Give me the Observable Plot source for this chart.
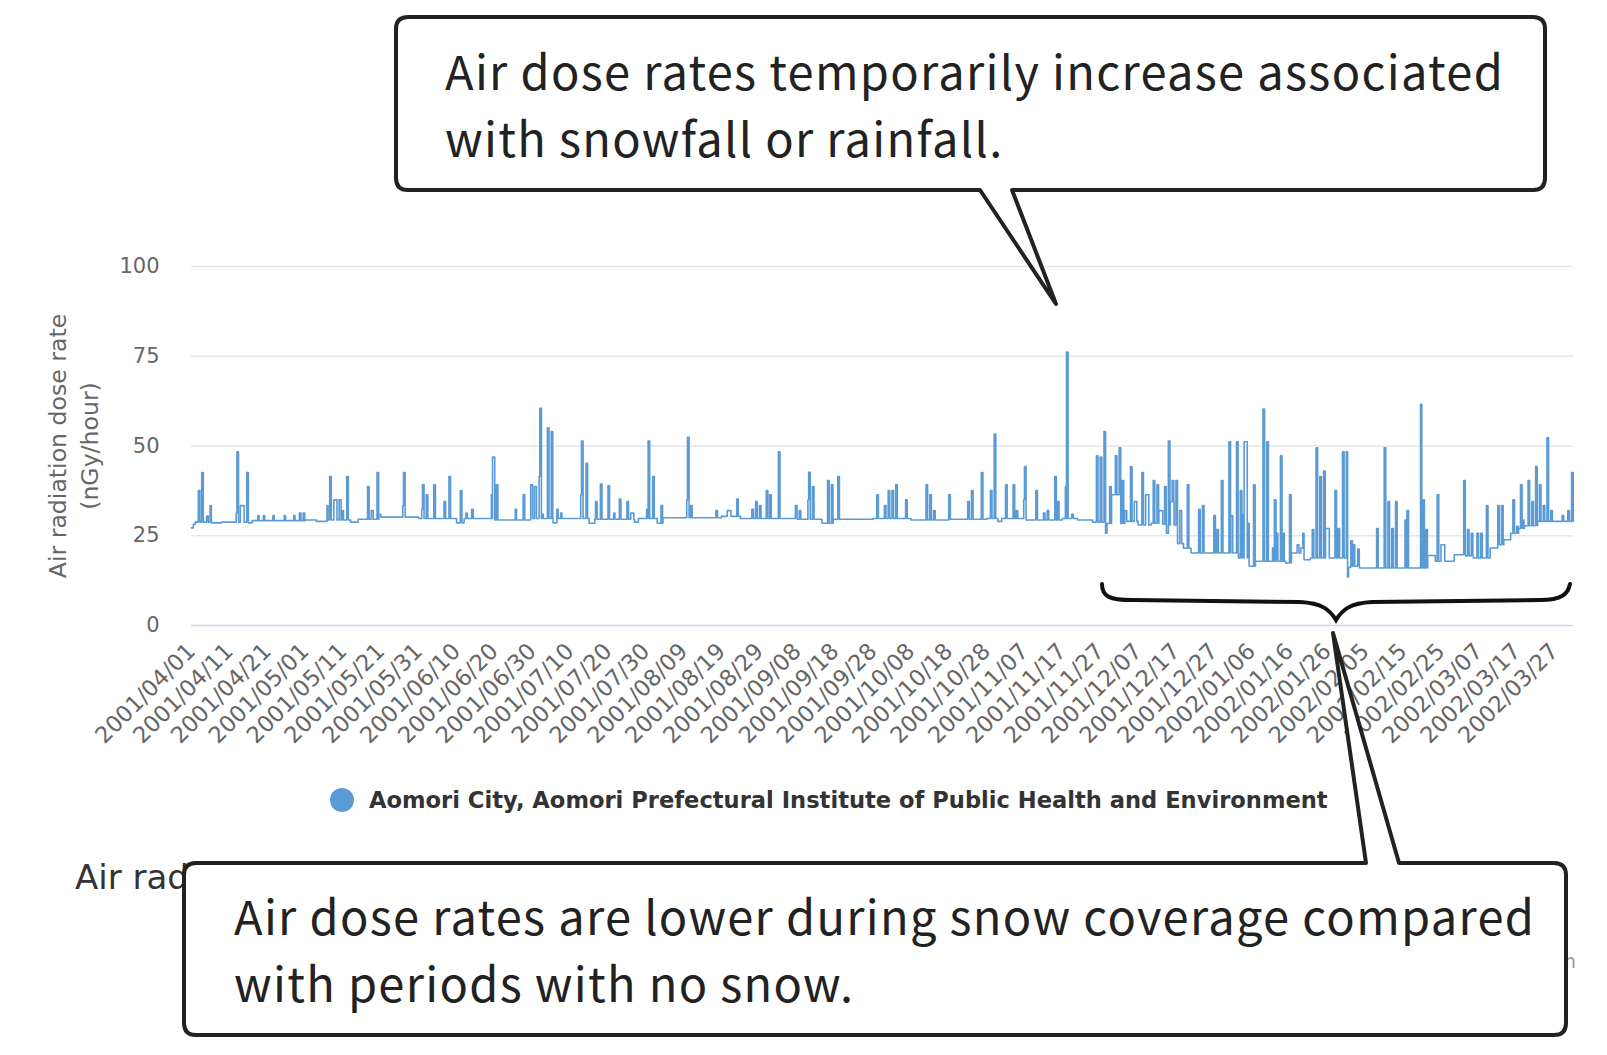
<!DOCTYPE html>
<html>
<head>
<meta charset="utf-8">
<script src="https://cdn.jsdelivr.net/npm/d3@7"></script>
<script src="https://cdn.jsdelivr.net/npm/@observablehq/plot@0.6"></script>
<style>
  body { margin: 0; background: #fff; }
  #wrap { position: relative; width: 1607px; height: 1055px; overflow: hidden; font-family: "DejaVu Sans", sans-serif; }
  #chart { position: absolute; left: 0; top: 0; }
  #legend { position: absolute; left: 330px; top: 786px; height: 28px; display: flex; align-items: center; }
  #legend .dot { width: 24px; height: 24px; border-radius: 50%; background: #5B9BD5; margin-right: 15px; }
  #legend .lbl { font-weight: 700; font-size: 22.6px; color: #333; white-space: nowrap; }
  #title { position: absolute; left: 75px; top: 857px; font-size: 34px; color: #333; white-space: nowrap; }
  #credit { position: absolute; right: 31px; top: 950px; font-size: 19px; color: #999; white-space: nowrap; }
  #notes { position: absolute; left: 0; top: 0; }
</style>
</head>
<body>
<div id="wrap">
  <div id="chart"></div>
  <div id="legend"><div class="dot"></div><div class="lbl"></div></div>
  <div id="title"></div>
  <div id="credit"></div>
  <svg id="notes" width="1607" height="1055"></svg>
</div>
<script>
// ---------------- data ----------------
const seriesName = "Aomori City, Aomori Prefectural Institute of Public Health and Environment";
const yTitle = ["Air radiation dose rate", "(nGy/hour)"];
const yTicks = [0, 25, 50, 75, 100];
const tickLabels = ["2001/04/01","2001/04/11","2001/04/21","2001/05/01","2001/05/11","2001/05/21","2001/05/31",
  "2001/06/10","2001/06/20","2001/06/30","2001/07/10","2001/07/20","2001/07/30","2001/08/09","2001/08/19",
  "2001/08/29","2001/09/08","2001/09/18","2001/09/28","2001/10/08","2001/10/18","2001/10/28","2001/11/07",
  "2001/11/17","2001/11/27","2001/12/07","2001/12/17","2001/12/27","2002/01/06","2002/01/16","2002/01/26",
  "2002/02/05","2002/02/15","2002/02/25","2002/03/07","2002/03/17","2002/03/27"];
const periodStart = "2001/04/01";
const periodEnd = "2002/04/01";

// background level: [days since 2001/04/01, nGy/h], holds until next entry
const baseline = [
  [0,27.2],[0.5,28.2],[1,28.8],[5,28.6],[8,28.8],[15,28.6],[16,29.2],[30,29.4],[33,29.0],[36,29.4],
  [42,28.8],[44,29.6],[50,30.2],[60,29.8],[70,28.6],[72,29.8],[80,29.4],[90,29.8],[95.5,28.6],[96.5,29.8],
  [105,28.5],[106.5,29.6],[117,28.8],[118,29.8],[123,28.5],[124.5,30.0],[140,30.4],[145,29.8],[160,29.6],
  [166.5,28.5],[169.5,29.6],[180,29.8],[190,29.4],[200,29.6],[210,29.8],[213,29.0],[214,29.8],[220,29.4],
  [230,29.8],[234,29.4],[238,28.8],[241.3,25.7],[241.8,28.4],[246.5,29.0],[250,28.0],[253.5,28.5],
  [255.6,25.7],[256,28.2],[257.5,25.7],[258,28.0],[260.3,22.8],[262,21.5],[264,20.2],[276.5,18.8],
  [279.3,16.5],[281,17.9],[289,17.4],[290.5,20.2],[293.5,18.3],[295.5,18.8],[305.3,13.5],[305.6,16.2],
  [306.3,16.5],[308.5,16.0],[326.5,19.5],[328.5,17.9],[333.5,19.7],[336.5,19.4],[338.5,18.8],[343,21.6],
  [345,22.5],[346.6,23.9],[348.4,25.7],[350.5,27.0],[352,27.8],[355.5,29.0]
];

// rain / snow events: [days since 2001/04/01, peak nGy/h, duration hours]
const spikes = [
  [1.8,37.6,10],[2.7,42.6,10],[4.0,30.5,10],[4.9,33.4,8],
  [11.8,31.3,6],[12.0,48.4,10],[12.9,33.4,24],[14.6,42.6,10],
  [17.5,30.6,8],[19,30.6,8],[21.5,30.6,8],[24.5,30.6,8],[27,30.6,8],[28.5,31.3,10],[29.5,31.3,10],
  [35.8,33.4,6],[36.5,41.5,10],[37.6,35,20],[39.0,35,12],[39.8,32,8],[41.0,41.5,10],
  [46.5,38.7,10],[47.5,32,12],[49.0,42.6,10],[49.5,31,12],
  [55.8,33.4,6],[56.0,42.6,10],[60.8,32.4,6],[61.0,39.2,10],[62.0,36.4,10],[64.0,39.2,10],[66.7,34.5,10],[68.0,41.5,10],
  [71.0,37.6,10],[72.5,31.3,8],[74.0,32.4,10],
  [79.2,36.4,6],[79.5,46.9,14],[80.5,39.2,10],[85.5,32.4,8],[87.6,36.4,10],[89.6,39.2,12],[90.6,38.7,12],
  [91.8,41.5,5],[92.0,60.5,10],[92.5,31,10],[94.0,55.1,10],[95.0,54,10],[96.5,32.4,8],[97.5,31.3,8],
  [102.8,36.4,5],[103.0,51.4,10],[104.2,45.2,10],[106.7,34.5,10],[108.0,39.4,10],[110.0,38.9,10],[111.5,31.3,8],
  [113.0,35.2,10],[115.0,34.5,10],[116.0,31.3,20],
  [120.2,32.4,6],[120.6,51.4,10],[121.8,41.5,10],[124.0,33.4,10],
  [130.8,35,5],[131.0,52.4,10],[131.8,33.4,10],[138.5,32,10],[141.5,32,24],[144.0,35.2,10],[148,32.4,10],
  [149.0,34.5,10],[150,33.4,10],[151.8,37.6,10],[152.7,36.4,10],
  [155.0,48.4,10],[159.5,33.4,10],[160.5,32,10],[162.8,35,5],[163.0,42.7,10],[164.0,38.7,10],[168.0,40.4,10],
  [169.0,39.2,10],[170.7,41.5,10],
  [181.0,36.4,10],[183.0,33.4,10],[184.0,37.6,10],[185.0,37.6,10],[186.0,39.2,10],[188.6,35,10],
  [194.0,39.2,10],[195.0,36.4,10],[196.0,32,10],[200.0,36.4,10],[205.0,34.5,10],[206.0,37.6,10],[208.6,42.6,10],
  [211.0,37.6,10],[212.0,53.3,10],[215.0,39.2,10],[217.0,39.2,10],[217.8,32,10],[219.8,35,5],[220.0,44.3,10],
  [223.0,37.6,10],[225,31.3,10],[226,32,10],
  [228.0,41.5,10],[228.8,34.5,8],[230.8,38.7,6],[231.1,76.2,10],[232.5,31,10],
  [239.0,47.3,10],[240.0,46.9,10],[241.0,54.0,10],[242.5,38.7,10],[243,36.4,48],[244.0,47.3,10],[245.0,49.5,10],
  [245.8,40.4,10],[246.5,32,12],
  [248.0,44.3,10],[249.0,34.5,16],[251.0,42.6,10],[252.0,36.4,20],[254.0,40.4,10],[255.0,39.2,10],[255.5,32,24],
  [257.0,38.7,10],
  [258.0,51.4,10],[258.5,34.5,24],[259.0,40.4,10],[260.0,40.4,10],[261.0,32,12],[263.0,39.2,10],[266.0,32.4,10],
  [267.0,33.4,10],[270.0,30.6,10],[270.8,26.7,10],
  [272.0,40.4,10],[274.0,51.2,10],[274.5,30.6,12],[276.0,51.2,10],[277.0,37.6,10],[277.5,31,10],[278.0,51.2,20],
  [279.0,28.5,8],[280.5,39.2,10],
  [283.0,60.3,10],[284.0,51.2,10],[285.5,21.6,10],[286.0,35,10],[286.5,25.7,10],[287.6,47.3,10],[288.2,25.7,10],
  [290.0,36.4,10],[292.0,22.5,12],[293.0,21.6,12],[293.5,25.7,8],
  [296.0,26.7,10],[297.0,49.5,10],[298.0,41.5,10],[299.0,43,10],[299.5,27,24],[302.0,37.6,10],[302.8,27,10],
  [304.0,48.4,10],[305.0,48.4,8],
  [306.2,23.6,10],[306.8,22.5,10],[308.0,21.3,10],[313.0,27,10],[315.0,49.5,10],[316.0,34.5,10],[317.0,27,10],
  [318.0,34.5,10],[320.5,29.4,10],[321.0,32,10],
  [324.6,61.6,8],[325.2,35,10],[326,26.7,10],[329.0,36.4,10],[330.0,22.5,24],[336.0,40.4,10],[337.0,26.7,10],
  [338.0,25.7,10],[339.5,25.7,10],[340.5,25.7,10],
  [342.0,33.4,10],[345.0,33.4,10],[346.0,33.4,10],[349.0,35,10],[350.0,27.6,10],[351.0,39.2,10],[351.5,29.4,10],
  [353.0,40.4,10],[354.0,34.5,10],
  [355.0,44.3,10],[356.0,39.2,10],[357.0,33.4,10],[358.0,52.3,10],[359.0,32,10],[362.0,30.6,10],[363.5,32,10],
  [364.5,42.6,10]
];

const note1 = ["Air dose rates temporarily increase associated", "with snowfall or rainfall."];
const note2 = ["Air dose rates are lower during snow coverage compared", "with periods with no snow."];
const titleText = "Air rad";      // the rest of this heading is hidden behind the lower callout
const creditText = "Highcharts.com";

// ---------------- build series ----------------
const parse = d3.utcParse("%Y/%m/%d");
const t0 = parse(periodStart);
const DAY = 864e5;
const toDate = d => new Date(+t0 + d * DAY);
function baseAt(day) {
  let v = baseline[0][1];
  for (const [d, val] of baseline) if (d <= day) v = val; else break;
  return v;
}
const events = spikes.map(([d, p, h]) => ({ s: d, e: d + h / 24, p }));
const cutSet = new Set([...baseline.map(b => b[0]), ...events.map(e => e.s), ...events.map(e => e.e), 365]);
const cuts = [...cutSet].filter(t => t <= 365).sort((a, b) => a - b);
const series = cuts.map(t => {
  let v = baseAt(t);
  for (const e of events) if (e.s <= t && t < e.e) v = Math.max(v, e.p);
  return { date: toDate(t), value: v };
});
const tickDates = tickLabels.map(parse);

// ---------------- chart ----------------
const chart = Plot.plot({
  width: 1607,
  height: 770,
  marginLeft: 191,
  marginRight: 34,
  marginTop: 266,
  marginBottom: 145,
  style: { fontFamily: "'DejaVu Sans', sans-serif", color: "#666", background: "transparent", overflow: "visible" },
  x: { type: "utc", domain: [t0, parse(periodEnd)] },
  y: { domain: [0, 100] },
  marks: [
    Plot.gridY(yTicks.filter(d => d > 0), { stroke: "#e6e6e6", strokeOpacity: 1, strokeWidth: 1.7 }),
    Plot.ruleY([0], { stroke: "#ccd6eb", strokeWidth: 1.7 }),
    Plot.lineY(series, { x: "date", y: "value", curve: "step-after", stroke: "#5B9BD5", strokeWidth: 1.6 }),
    Plot.axisY({ ticks: yTicks, tickSize: 0, tickPadding: 32, label: null, fontSize: 21, fill: "#666" }),
    Plot.axisX({ ticks: tickDates, tickFormat: d3.utcFormat("%Y/%m/%d"), tickRotate: -45, tickSize: 0,
      tickPadding: 22, label: null, fontSize: 22.6, fill: "#666" }),
    Plot.text([yTitle[0]], { frameAnchor: "left", textAnchor: "middle", dx: -133, rotate: -90, fontSize: 23.6, fill: "#666" }),
    Plot.text([yTitle[1]], { frameAnchor: "left", textAnchor: "middle", dx: -101, rotate: -90, fontSize: 23.6, fill: "#666" })
  ]
});
document.getElementById("chart").append(chart);
document.querySelector("#legend .lbl").textContent = seriesName;
document.getElementById("title").textContent = titleText;
document.getElementById("credit").textContent = creditText;

// ---------------- callouts ----------------
const svg = d3.select("#notes");
function boxPath(x0, y0, x1, y1, r, side, a, b, tx, ty) {
  if (side === "bottom") {
    return `M${x0 + r},${y0}H${x1 - r}Q${x1},${y0} ${x1},${y0 + r}V${y1 - r}Q${x1},${y1} ${x1 - r},${y1}` +
      `H${b}L${tx},${ty}L${a},${y1}H${x0 + r}Q${x0},${y1} ${x0},${y1 - r}V${y0 + r}Q${x0},${y0} ${x0 + r},${y0}Z`;
  }
  return `M${x0 + r},${y0}H${a}L${tx},${ty}L${b},${y0}H${x1 - r}Q${x1},${y0} ${x1},${y0 + r}V${y1 - r}` +
    `Q${x1},${y1} ${x1 - r},${y1}H${x0 + r}Q${x0},${y1} ${x0},${y1 - r}V${y0 + r}Q${x0},${y0} ${x0 + r},${y0}Z`;
}
svg.append("path").attr("d", boxPath(396, 17, 1545, 190, 12, "bottom", 980, 1012, 1056, 304))
  .attr("fill", "#fff").attr("stroke", "#222").attr("stroke-width", 4).attr("stroke-linejoin", "round");
svg.append("path").attr("d", boxPath(184, 863, 1566, 1035, 12, "top", 1366, 1399, 1333, 633))
  .attr("fill", "#fff").attr("stroke", "#222").attr("stroke-width", 4).attr("stroke-linejoin", "round");
// brace
svg.append("path")
  .attr("d", "M1102,584C1102,597 1110,600 1132,600L1300,602C1322,603 1330,610 1336,620C1342,610 1350,603 1372,602L1540,600C1562,600 1568,594 1570,584")
  .attr("fill", "none").attr("stroke", "#111").attr("stroke-width", 4).attr("stroke-linecap", "round");

function noteText(lines, x, y) {
  const t = svg.append("text").attr("font-family", "'Noto Sans CJK JP', 'Noto Sans', sans-serif")
    .attr("font-size", 47).attr("fill", "#222").attr("font-weight", 400).attr("letter-spacing", 1.3);
  lines.forEach((l, i) => t.append("tspan").attr("x", x).attr("y", y + i * 67).text(l));
}
noteText(note1, 445, 90);
noteText(note2, 234, 935);
</script>
</body>
</html>
